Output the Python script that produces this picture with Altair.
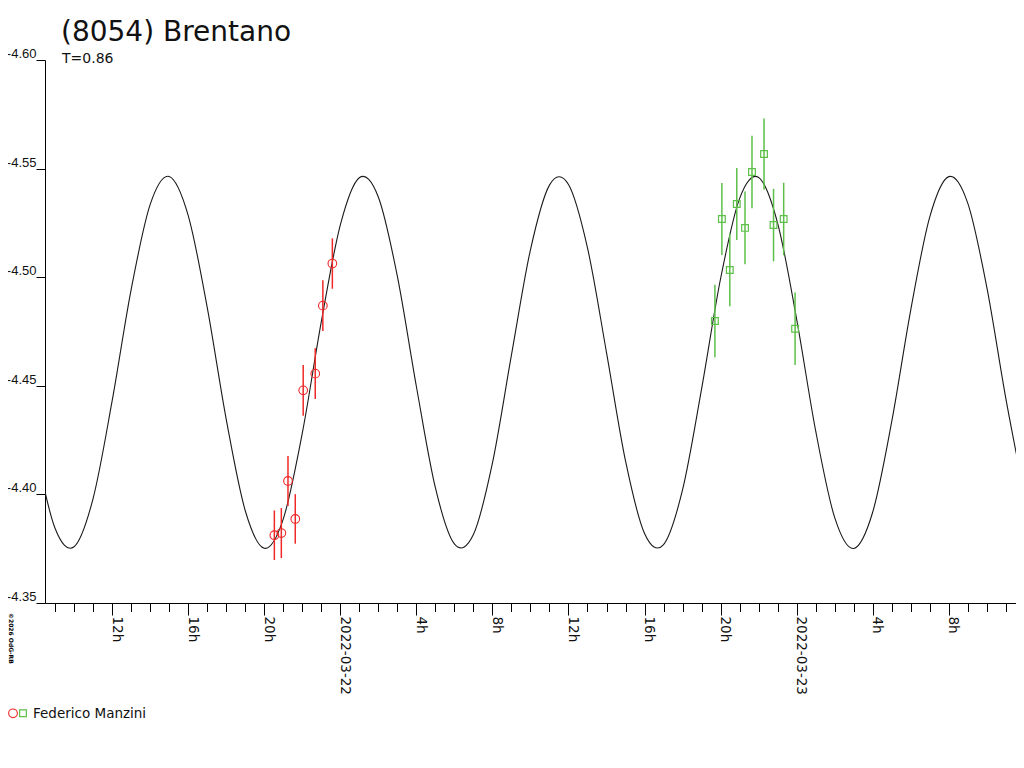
import altair as alt
import pandas as pd

# ---------------- data ----------------
title_text = "(8054) Brentano"
subtitle_text = "T=0.86"
observer = "Federico Manzini"
credit = "\u00a92026 OdG-RB"

red_times = ["2022-03-21T20:32:00Z", "2022-03-21T20:54:00Z", "2022-03-21T21:15:00Z",
             "2022-03-21T21:38:00Z", "2022-03-21T22:03:00Z", "2022-03-21T22:41:00Z",
             "2022-03-21T23:05:00Z", "2022-03-21T23:35:00Z"]
red_mags = [-4.3812, -4.3822, -4.4062, -4.3887, -4.4479, -4.4556, -4.4869, -4.5063]
red_errs = [0.0114, 0.0115, 0.0115, 0.0114, 0.0117, 0.0117, 0.0117, 0.0116]

green_times = ["2022-03-22T19:42:00Z", "2022-03-22T20:04:00Z", "2022-03-22T20:29:00Z",
               "2022-03-22T20:51:00Z", "2022-03-22T21:17:00Z", "2022-03-22T21:39:00Z",
               "2022-03-22T22:17:00Z", "2022-03-22T22:47:00Z", "2022-03-22T23:19:00Z",
               "2022-03-22T23:55:00Z"]
green_mags = [-4.4798, -4.5268, -4.5033, -4.5337, -4.5227, -4.5484, -4.5567, -4.5240,
              -4.5268, -4.4763]
green_errs = [0.0167, 0.0166, 0.0167, 0.0166, 0.0167, 0.0167, 0.0164, 0.0167, 0.0167, 0.0167]

# model light curve, read hourly from 2022-03-21 08:00 UTC
curve_start = "2022-03-21T08:00:00Z"
curve_mags = [-4.4204, -4.3844, -4.3759, -4.3981, -4.4429, -4.4942, -4.5334, -4.5464,
              -4.5285, -4.4862, -4.4347, -4.3926, -4.3752, -4.3886, -4.4281, -4.4794,
              -4.5240, -4.5458, -4.5369, -4.5005, -4.4498, -4.4031, -4.3772, -4.3815,
              -4.4144, -4.4641, -4.5126, -4.5424, -4.5427, -4.5135, -4.4653, -4.4154,
              -4.3820, -4.3769, -4.4022, -4.4486, -4.4994, -4.5363, -4.5459, -4.5248,
              -4.4806, -4.4292, -4.3893, -4.3751, -4.3919, -4.4336, -4.4850, -4.5278,
              -4.5463, -4.5340, -4.4953, -4.4441, -4.3989]

x_domain = ["2022-03-21T08:28:20Z", "2022-03-23T11:32:00Z"]
major_ticks = ["2022-03-21T12:00:00Z", "2022-03-21T16:00:00Z", "2022-03-21T20:00:00Z",
               "2022-03-22T00:00:00Z", "2022-03-22T04:00:00Z", "2022-03-22T08:00:00Z",
               "2022-03-22T12:00:00Z", "2022-03-22T16:00:00Z", "2022-03-22T20:00:00Z",
               "2022-03-23T00:00:00Z", "2022-03-23T04:00:00Z", "2022-03-23T08:00:00Z"]
minor_first, minor_last = "2022-03-21T09:00:00Z", "2022-03-23T11:00:00Z"
y_ticks = [-4.60, -4.55, -4.50, -4.45, -4.40, -4.35]

RED = "#f02828"
GREEN = "#5cbf48"
INK = "#111111"


def ms(s):
    return int(pd.Timestamp(s).value // 10**6)


curve_times = pd.date_range(curve_start, periods=len(curve_mags), freq="h")
curve_df = pd.DataFrame({"time": [t.strftime("%Y-%m-%dT%H:%M:%SZ") for t in curve_times],
                         "mag": curve_mags})
red_df = pd.DataFrame({"time": red_times, "mag": red_mags, "err": red_errs})
green_df = pd.DataFrame({"time": green_times, "mag": green_mags, "err": green_errs})

minor_ms = [ms(t) for t in pd.date_range(minor_first, minor_last, freq="h")]
major_ms = [ms(t) for t in major_ticks]

xscale = alt.Scale(type="utc", domain=[ms(x_domain[0]), ms(x_domain[1])], nice=False)
yscale = alt.Scale(domain=[-4.60, -4.35], reverse=True, nice=False, zero=False)

yaxis = alt.Axis(values=y_ticks, labelExpr="'-' + format(abs(datum.value), '.2f')",
                 tickSize=9, labelPadding=0, labelFont="Liberation Sans", labelFontSize=13,
                 labelColor=INK, labelBaseline="alphabetic", labelOffset=-2.5,
                 domainColor="#000", tickColor="#000", title=None, grid=False)

major_axis = alt.Axis(values=major_ms, orient="bottom",
                      labelExpr="utchours(datum.value) == 0 ? utcFormat(datum.value, '%Y-%m-%d') : utchours(datum.value) + 'h'",
                      tickSize=12, labelAngle=90, labelAlign="left", labelBaseline="alphabetic",
                      labelPadding=1, labelFont="DejaVu Sans", labelFontSize=13.5, labelColor=INK,
                      labelFlush=False, labelOverlap=False, labelBound=False,
                      domainColor="#000", tickColor="#000", title=None, grid=False)
minor_axis = alt.Axis(values=minor_ms, orient="bottom", labels=False, tickSize=8.5, domain=False,
                      tickColor="#000", title=None, grid=False)

Y = alt.Y("mag:Q", scale=yscale, axis=yaxis)

curve = alt.Chart(curve_df).mark_line(color="#1a1a1a", strokeWidth=1.1, interpolate="cardinal",
                                      tension=0, clip=True).encode(
    x=alt.X("time:T", scale=xscale, axis=major_axis), y=Y)

red_bars = alt.Chart(red_df).transform_calculate(
    lo="datum.mag - datum.err", hi="datum.mag + datum.err"
).mark_rule(color=RED, strokeWidth=1.5).encode(
    x=alt.X("time:T", scale=xscale, axis=minor_axis),
    y=alt.Y("lo:Q", scale=yscale, axis=yaxis), y2="hi:Q")
red_pts = alt.Chart(red_df).mark_point(shape="circle", filled=False, color=RED, size=75,
                                       strokeWidth=1.1, opacity=1).encode(
    x=alt.X("time:T", scale=xscale, axis=None), y=Y)

green_bars = alt.Chart(green_df).transform_calculate(
    lo="datum.mag - datum.err", hi="datum.mag + datum.err"
).mark_rule(color=GREEN, strokeWidth=1.5).encode(
    x=alt.X("time:T", scale=xscale, axis=None),
    y=alt.Y("lo:Q", scale=yscale, axis=yaxis), y2="hi:Q")
green_pts = alt.Chart(green_df).mark_point(shape="square", filled=False, color=GREEN, size=45,
                                           strokeWidth=1.2, opacity=1).encode(
    x=alt.X("time:T", scale=xscale, axis=None), y=Y)

title_mark = alt.Chart(pd.DataFrame({"label": [title_text]})).mark_text(
    font="DejaVu Sans", fontSize=28, align="left", baseline="alphabetic", color=INK
).encode(x=alt.value(16), y=alt.value(-19.3), text="label:N")
subtitle_mark = alt.Chart(pd.DataFrame({"label": [subtitle_text]})).mark_text(
    font="DejaVu Sans", fontSize=14, align="left", baseline="alphabetic", color=INK
).encode(x=alt.value(17), y=alt.value(3.3), text="label:N")
credit_mark = alt.Chart(pd.DataFrame({"label": [credit]})).mark_text(
    font="DejaVu Sans", fontSize=6, fontWeight="bold", align="left", baseline="alphabetic",
    angle=90, color="#000"
).encode(x=alt.value(-36), y=alt.value(553), text="label:N")

legend_circle = alt.Chart(pd.DataFrame({"label": [observer]})).mark_point(
    shape="circle", filled=False, color=RED, size=75, strokeWidth=1.1, opacity=1
).encode(x=alt.value(-32), y=alt.value(653.3))
legend_square = alt.Chart(pd.DataFrame({"label": [observer]})).mark_point(
    shape="square", filled=False, color=GREEN, size=45, strokeWidth=1.2, opacity=1
).encode(x=alt.value(-22), y=alt.value(653.3))
legend_text = alt.Chart(pd.DataFrame({"label": [observer]})).mark_text(
    font="DejaVu Sans", fontSize=13.5, align="left", baseline="alphabetic", color=INK
).encode(x=alt.value(-12), y=alt.value(657.7), text="label:N")

chart = alt.layer(
    curve, red_bars, red_pts, green_bars, green_pts,
    title_mark, subtitle_mark, credit_mark, legend_circle, legend_square, legend_text
).resolve_axis(x="independent").properties(
    width=971, height=543,
    autosize=alt.AutoSizeParams(type="none"),
    padding={"left": 37, "top": 52, "right": 0, "bottom": 125},
    background="white",
).configure_view(stroke=None)

chart.save("out.html", embed_options={"renderer": "svg", "actions": False})
